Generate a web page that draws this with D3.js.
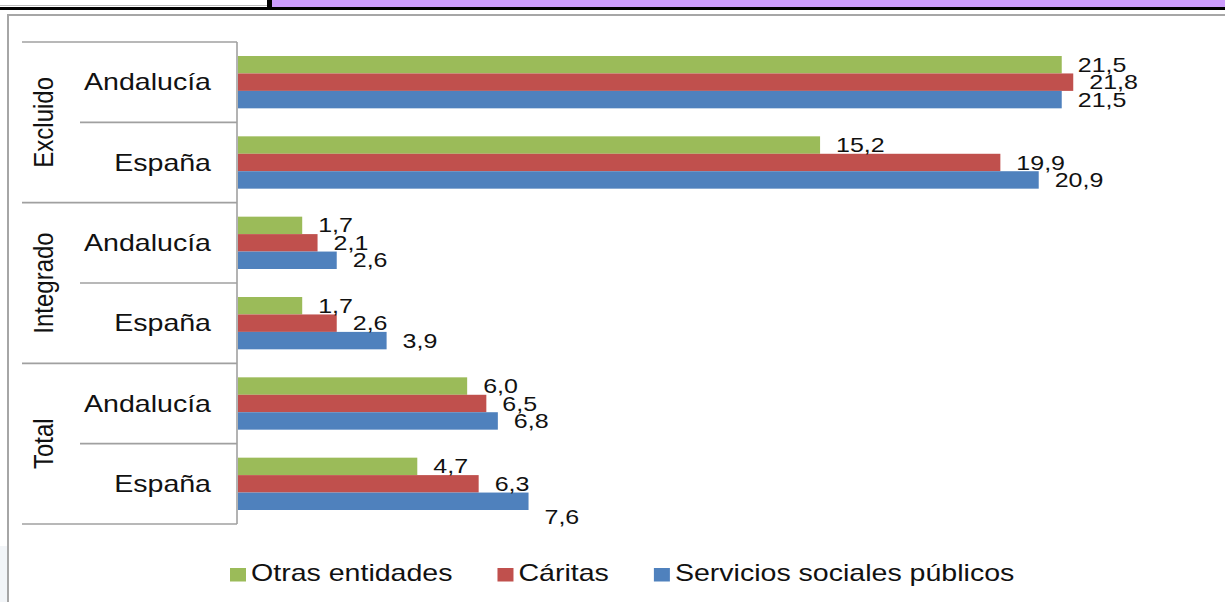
<!DOCTYPE html>
<html>
<head>
<meta charset="utf-8">
<script src="https://cdn.jsdelivr.net/npm/d3@7"></script>
<style>
  html, body { margin: 0; padding: 0; background: #fff; }
  svg { display: block; }
  text { font-family: "Liberation Sans", Arial, sans-serif; fill: #111; }
</style>
</head>
<body>
<div id="chart"></div>
<script>
// data
var groups = ["Excluido", "Integrado", "Total"];
var regions = ["Andalucía", "España"];
var seriesNames = ["Otras entidades", "Cáritas", "Servicios sociales públicos"];
var seriesColors = ["#9BBB59", "#C0504D", "#4F81BD"];

// one value per row: Excluido/Andalucía, Excluido/España, Integrado/..., Total/...
var otras = [21.5, 15.2, 1.7, 1.7, 6.0, 4.7];
var caritas = [21.8, 19.9, 2.1, 2.6, 6.5, 6.3];
var servicios = [21.5, 20.9, 2.6, 3.9, 6.8, 7.6];

var W = 1225, H = 602;
var sx = 1.19; // picture text is stretched horizontally

var rows = [];
groups.forEach(function (g) {
    regions.forEach(function (r) { rows.push(g + "|" + r); });
});
var values = [otras, caritas, servicios];

var svg = d3.select("#chart").append("svg")
    .attr("width", W)
    .attr("height", H);

// top strip of the page
svg.append("rect").attr("x", 272).attr("y", 0).attr("width", W - 272).attr("height", 7).attr("fill", "#CC9CFC");
svg.append("rect").attr("x", 0).attr("y", 7).attr("width", W).attr("height", 3).attr("fill", "#000");
svg.append("rect").attr("x", 267).attr("y", 0).attr("width", 5).attr("height", 8).attr("fill", "#000");
svg.append("rect").attr("x", 0).attr("y", 5).attr("width", 267).attr("height", 1).attr("fill", "#bbb");
svg.append("rect").attr("x", 0).attr("y", 546).attr("width", 7).attr("height", H - 546).attr("fill", "#F2F5F8");

// chart frame
svg.append("rect")
    .attr("x", 8).attr("y", 15)
    .attr("width", W + 10).attr("height", H + 10)
    .attr("fill", "none")
    .attr("stroke", "#A6A6A6")
    .attr("stroke-width", 2);

var x = d3.scaleLinear().domain([0, 25]).range([237, 1196]);
var y = d3.scaleBand().domain(rows).range([42, 524]);
var ySub = d3.scaleBand().domain(d3.range(3)).range([14, y.bandwidth() - 14]);

var fmt = d3.formatLocale({decimal: ",", thousands: ".", grouping: [3], currency: ["", "€"]}).format(".1f");

// bars
var bars = svg.append("g");
values.forEach(function (vals, si) {
    bars.selectAll(".s" + si)
        .data(vals)
        .join("rect")
        .attr("x", x(0) + 1)
        .attr("y", function (d, i) { return y(rows[i]) + ySub(si); })
        .attr("width", function (d) { return x(d) - x(0) - 1; })
        .attr("height", ySub.bandwidth())
        .attr("fill", seriesColors[si]);
});

// data labels (the last blue one is pushed below its bar in the picture)
var nudge = {"5-2": 16};
var labels = svg.append("g");
values.forEach(function (vals, si) {
    labels.selectAll(".l" + si)
        .data(vals)
        .join("text")
        .attr("transform", function (d, i) {
            var ty = y(rows[i]) + ySub(si) + ySub.bandwidth() / 2 + 7 + (nudge[i + "-" + si] || 0);
            return "translate(" + (x(d) + 16) + "," + ty + ") scale(" + sx + ",1)";
        })
        .attr("font-size", 21)
        .text(function (d) { return fmt(d); });
});

// category axis
var axis = svg.append("g").attr("stroke", "#A0A0A0").attr("stroke-width", 1.6);
axis.append("line").attr("x1", x(0)).attr("x2", x(0)).attr("y1", 42).attr("y2", 524);
rows.forEach(function (r, i) {
    var inner = i % 2 === 1;
    axis.append("line")
        .attr("x1", inner ? 80 : 22).attr("x2", x(0))
        .attr("y1", y(r)).attr("y2", y(r));
});
axis.append("line").attr("x1", 22).attr("x2", x(0)).attr("y1", 524).attr("y2", 524);

rows.forEach(function (r) {
    svg.append("text")
        .attr("transform", "translate(211," + (y(r) + y.bandwidth() / 2 + 8) + ") scale(" + sx + ",1)")
        .attr("text-anchor", "end")
        .attr("font-size", 24)
        .text(r.split("|")[1]);
});

groups.forEach(function (g) {
    var cy = y(g + "|" + regions[0]) + y.bandwidth();
    svg.append("text")
        .attr("transform", "translate(53," + cy + ") scale(" + sx + ",1) rotate(-90)")
        .attr("text-anchor", "middle")
        .attr("font-size", 24)
        .text(g);
});

// legend
var lx = 230;
seriesNames.forEach(function (name, si) {
    svg.append("rect")
        .attr("x", lx).attr("y", 568)
        .attr("width", 16).attr("height", 13.5)
        .attr("fill", seriesColors[si]);
    var t = svg.append("text")
        .attr("transform", "translate(" + (lx + 21) + ",581) scale(" + sx + ",1)")
        .attr("font-size", 24)
        .text(name);
    lx += 21 + t.node().getComputedTextLength() * sx + 45;
});
</script>
</body>
</html>
